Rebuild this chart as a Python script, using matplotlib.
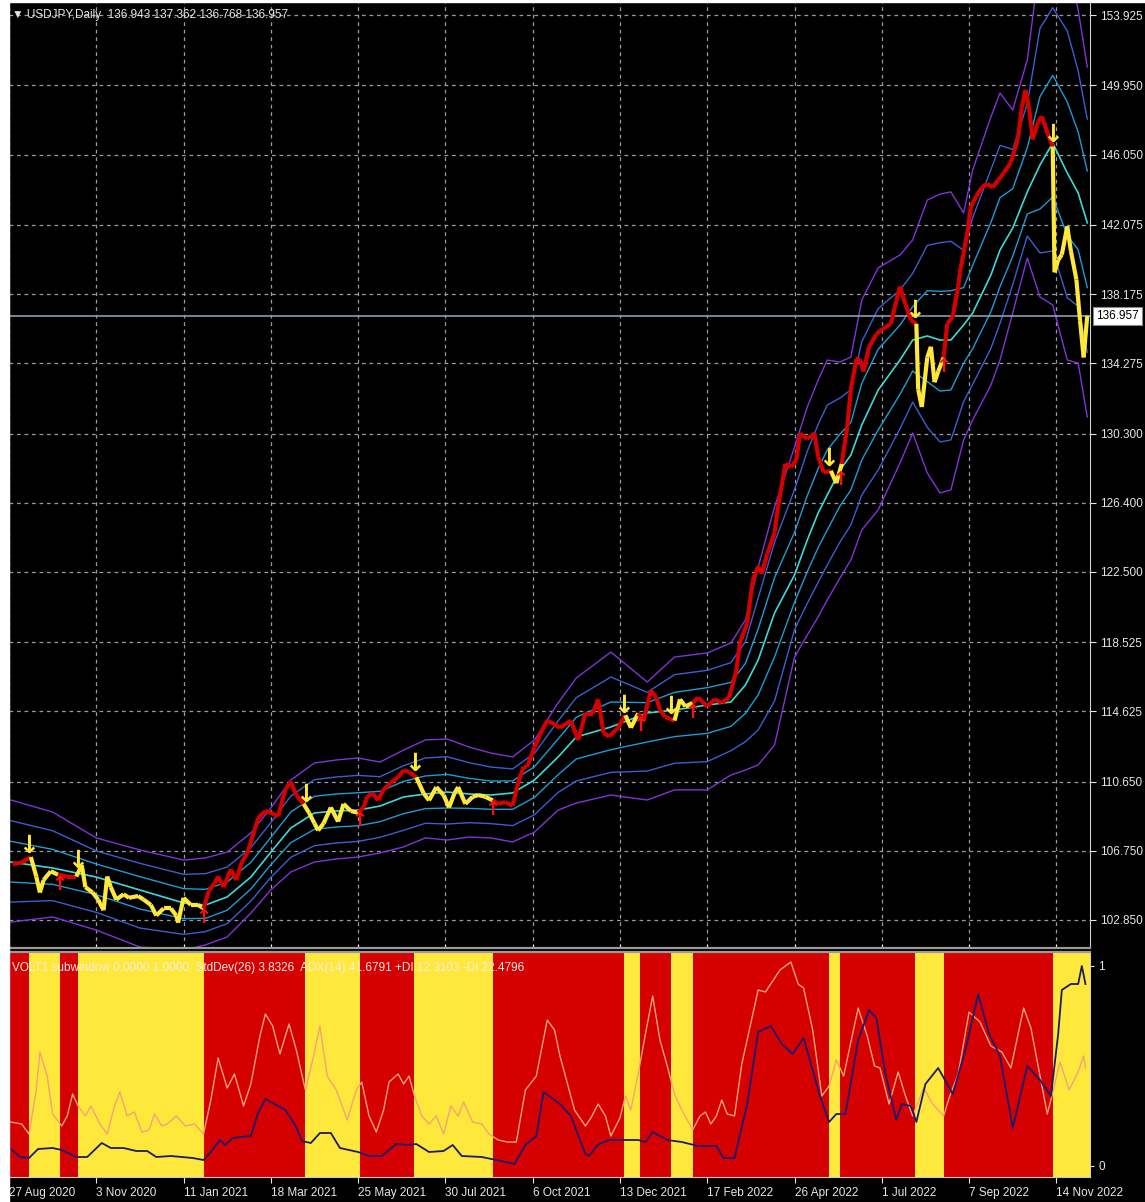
import numpy as np
import matplotlib
matplotlib.use("Agg")
from matplotlib import pyplot as plt
from matplotlib.collections import LineCollection
from matplotlib.patches import Rectangle
from matplotlib.transforms import blended_transform_factory

plt.rcParams['font.family'] = ['Liberation Sans', 'DejaVu Sans']

# ---- price (close, sampled by bar index) ----
price_bar = [2, 7, 12, 15, 17, 19, 23, 27, 32, 37, 40, 42, 46, 49, 52, 54, 56, 59, 63, 66,
             71, 74, 78, 81, 85, 89, 92, 93, 96, 100, 104, 107, 110, 113, 115, 118, 122, 125, 128, 131,
             135, 137, 141, 144, 148, 152, 155, 158, 162, 165, 168, 170, 173, 177, 181, 184, 188, 192, 195, 197,
             200, 203, 206, 210, 214, 217, 220, 224, 228, 231, 235, 239, 242, 245, 247, 251, 255, 258, 262, 266,
             269, 273, 277, 280, 283, 285, 289, 292, 296, 300, 303, 309, 313, 317, 321, 324, 327, 330, 335, 339,
             342, 346, 349, 353, 356, 358, 361, 366, 369, 372, 376, 379, 384, 388, 392, 396, 400, 402, 406, 409,
             412, 414, 417, 421, 423, 427, 430, 433, 435, 439, 443, 445, 448, 452, 455, 458, 461, 463, 466, 468,
             470, 473, 477, 479, 482, 485, 488, 490, 493, 496, 499, 500, 502, 505, 507, 509, 511, 514, 516, 519,
             522, 523, 525, 527, 529, 532, 535, 538, 541, 544, 547, 551, 555, 557, 559, 561, 563, 566, 568, 571,
             574, 575, 577, 579, 582, 584, 587, 589, 591, 593]
price_close = [106.0, 106.1, 106.4, 105.3, 104.4, 105.1, 105.6, 105.4, 105.3, 105.3, 105.95, 104.7, 104.4, 104.0, 103.4, 105.3, 104.7, 104.0, 104.3, 104.1,
               104.2, 104.0, 103.7, 103.1, 103.5, 103.5, 103.1, 102.7, 104.1, 103.7, 103.7, 103.5, 104.5, 104.9, 105.3, 104.7, 105.7, 105.1, 106.1, 106.6,
               107.9, 108.6, 109.0, 108.9, 108.7, 110.2, 110.65, 109.9, 109.4, 108.9, 108.3, 107.9, 108.3, 109.2, 108.4, 109.4, 109.0, 108.9, 109.2, 109.8,
               110.0, 109.6, 110.2, 110.6, 110.9, 111.3, 111.2, 110.9, 110.0, 109.6, 110.35, 109.9, 109.2, 110.0, 110.35, 109.4, 109.8, 109.9, 109.8, 109.6,
               109.4, 109.5, 109.3, 110.6, 111.5, 111.5, 112.6, 113.3, 114.1, 113.9, 113.7, 114.1, 113.0, 114.5, 114.5, 115.3, 113.4, 113.2, 113.7, 114.4,
               113.7, 114.5, 114.1, 115.8, 115.4, 114.7, 114.3, 114.1, 115.3, 114.9, 115.1, 115.4, 114.9, 115.3, 115.1, 115.4, 116.9, 118.5, 119.6, 122.0,
               122.8, 122.4, 123.5, 124.7, 126.2, 128.6, 128.4, 128.8, 130.3, 130.0, 130.3, 129.0, 128.1, 128.2, 127.5, 128.6, 130.7, 132.8, 134.5, 134.5,
               133.8, 135.2, 135.9, 136.1, 136.3, 136.5, 137.8, 138.6, 137.6, 136.7, 136.5, 132.8, 131.8, 134.6, 135.2, 133.2, 133.8, 134.6, 136.5, 136.9,
               138.6, 139.4, 140.5, 141.6, 143.1, 143.7, 144.2, 144.4, 144.2, 144.6, 145.0, 145.6, 147.0, 148.7, 149.7, 148.7, 146.9, 147.9, 148.2, 147.3,
               146.5, 139.4, 140.1, 140.4, 142.0, 140.6, 139.0, 136.7, 134.6, 136.957]

# ---- envelope: outer top, middle, outer bottom ----
band_bar = [1, 24, 48, 72, 96, 108, 120, 133, 144, 155, 168, 180, 192, 204, 217, 229, 241, 253, 265, 277,
            289, 302, 312, 331, 351, 366, 384, 397, 405, 412, 421, 432, 439, 445, 450, 457, 463, 469, 478, 490,
            497, 505, 512, 518, 525, 530, 540, 545, 552, 560, 567, 574, 582, 588, 593]
band_top = [109.62, 108.94, 107.48, 106.80, 106.23, 106.35, 106.68, 107.76, 109.17, 110.75, 111.71, 111.88, 111.99, 111.76, 112.44, 113.01, 113.06, 112.61, 112.27, 112.05,
            113.01, 115.10, 116.51, 117.97, 116.28, 117.69, 117.92, 118.48, 119.78, 122.77, 126.16, 129.54, 131.80, 133.32, 134.45, 134.34, 134.62, 137.84, 139.65, 140.38,
            141.23, 143.48, 143.82, 143.94, 142.75, 145.18, 148.17, 149.52, 148.56, 151.39, 157.03, 158.16, 157.03, 154.21, 150.99]
band_mid = [106.12, 105.78, 105.27, 104.54, 103.81, 103.69, 104.15, 105.27, 106.68, 108.04, 108.89, 109.00, 109.05, 109.28, 109.79, 109.96, 110.07, 109.96, 109.90, 110.02,
            110.75, 112.05, 113.18, 113.74, 114.53, 114.70, 114.98, 115.15, 116.11, 117.52, 120.17, 122.32, 124.29, 125.82, 126.83, 128.24, 129.09, 130.79, 132.76, 134.45,
            135.58, 135.81, 135.58, 135.58, 136.43, 137.11, 139.25, 140.66, 141.90, 143.94, 145.46, 146.70, 145.01, 143.88, 142.19]
band_bot = [102.73, 103.02, 102.28, 101.32, 101.15, 101.44, 101.89, 103.24, 104.54, 105.56, 106.12, 106.29, 106.40, 106.63, 106.97, 107.48, 107.36, 107.53, 107.48, 107.25,
            107.81, 109.05, 109.45, 109.90, 109.62, 110.19, 110.19, 111.03, 111.31, 111.60, 112.72, 117.69, 118.93, 119.95, 120.91, 122.15, 123.17, 124.86, 125.99, 128.64,
            130.33, 128.08, 126.95, 127.12, 129.94, 131.07, 133.04, 134.45, 137.11, 140.21, 138.01, 137.56, 134.45, 134.28, 131.24]

# ---- regime (red = trend, yellow = flat) ----
regime_edges = [0, 11, 28, 38, 107, 163, 193, 223, 266, 338, 347, 364, 376, 451, 457, 498, 514, 574, 594.5]
regime_kind = ['R', 'Y', 'R', 'Y', 'R', 'Y', 'R', 'Y', 'R', 'Y', 'R', 'Y', 'R', 'Y', 'R', 'Y', 'R', 'Y']

# ---- sub window: StdDev (navy) and ADX (salmon), both scaled 0..1 ----
std_bar = [1, 6, 11, 16, 24, 29, 37, 43, 51, 56, 63, 70, 76, 81, 89, 95, 101, 107, 111, 116,
           119, 123, 133, 137, 141, 146, 152, 158, 161, 166, 171, 177, 182, 192, 198, 205, 213, 220, 224, 231,
           239, 244, 249, 260, 268, 278, 284, 290, 294, 300, 303, 309, 317, 319, 324, 330, 338, 346, 350, 354,
           362, 370, 379, 389, 393, 399, 406, 412, 419, 425, 431, 437, 446, 451, 455, 460, 467, 473, 477, 482,
           488, 491, 496, 499, 504, 511, 519, 526, 533, 539, 545, 552, 560, 567, 573, 577, 579, 584, 588, 590, 592]
std_val = [0.085, 0.045, 0.04, 0.085, 0.09, 0.08, 0.045, 0.045, 0.115, 0.09, 0.09, 0.075, 0.075, 0.045, 0.05, 0.045, 0.04, 0.03, 0.07, 0.13,
           0.105, 0.14, 0.15, 0.265, 0.335, 0.31, 0.28, 0.195, 0.125, 0.115, 0.165, 0.165, 0.09, 0.07, 0.05, 0.05, 0.11, 0.105, 0.11, 0.07,
           0.075, 0.105, 0.05, 0.045, 0.03, 0.01, 0.105, 0.15, 0.37, 0.33, 0.31, 0.25, 0.06, 0.05, 0.107, 0.13, 0.13, 0.13, 0.12, 0.17,
           0.13, 0.12, 0.10, 0.10, 0.04, 0.04, 0.31, 0.67, 0.70, 0.61, 0.56, 0.64, 0.35, 0.22, 0.26, 0.26, 0.63, 0.78, 0.74, 0.46,
           0.23, 0.31, 0.30, 0.22, 0.41, 0.49, 0.36, 0.58, 0.86, 0.66, 0.55, 0.19, 0.50, 0.43, 0.35, 0.66, 0.88, 0.91, 0.91, 1.0, 0.91]
adx_bar = [1, 7, 11, 15, 17, 21, 24, 29, 32, 35, 38, 42, 45, 50, 54, 58, 61, 65, 69, 73,
           77, 80, 84, 87, 92, 97, 102, 107, 111, 115, 120, 124, 129, 133, 138, 141, 145, 149, 154, 158,
           163, 167, 171, 175, 180, 186, 191, 194, 198, 202, 206, 209, 214, 217, 220, 223, 227, 231, 235, 239,
           243, 247, 250, 255, 260, 264, 269, 274, 279, 284, 290, 296, 300, 303, 306, 311, 317, 320, 324, 328,
           331, 336, 339, 342, 346, 350, 354, 358, 362, 366, 370, 376, 380, 383, 386, 389, 392, 395, 399, 403,
           412, 416, 424, 430, 434, 437, 442, 447, 451, 455, 459, 467, 472, 476, 479, 484, 489, 493, 497, 503,
           508, 514, 517, 522, 528, 534, 540, 546, 551, 558, 562, 567, 571, 573, 578, 583, 588, 591, 592]
adx_val = [0.22, 0.21, 0.16, 0.38, 0.57, 0.45, 0.26, 0.20, 0.25, 0.36, 0.30, 0.25, 0.30, 0.21, 0.16, 0.30, 0.37, 0.25, 0.27, 0.17,
           0.18, 0.26, 0.20, 0.21, 0.25, 0.20, 0.21, 0.16, 0.33, 0.54, 0.39, 0.46, 0.30, 0.41, 0.65, 0.76, 0.70, 0.56, 0.71, 0.58,
           0.38, 0.53, 0.70, 0.45, 0.38, 0.23, 0.38, 0.42, 0.25, 0.17, 0.28, 0.42, 0.46, 0.41, 0.45, 0.35, 0.25, 0.21, 0.25, 0.16,
           0.30, 0.25, 0.32, 0.22, 0.21, 0.16, 0.13, 0.12, 0.12, 0.38, 0.45, 0.73, 0.68, 0.55, 0.45, 0.28, 0.20, 0.24, 0.31, 0.25,
           0.15, 0.24, 0.35, 0.28, 0.46, 0.66, 0.85, 0.63, 0.50, 0.36, 0.28, 0.18, 0.25, 0.27, 0.21, 0.25, 0.33, 0.26, 0.25, 0.51,
           0.88, 0.87, 0.98, 1.02, 0.91, 0.89, 0.68, 0.35, 0.40, 0.53, 0.45, 0.79, 0.65, 0.50, 0.49, 0.31, 0.47, 0.35, 0.25, 0.39,
           0.31, 0.25, 0.34, 0.46, 0.77, 0.72, 0.60, 0.57, 0.49, 0.79, 0.69, 0.45, 0.26, 0.33, 0.52, 0.38, 0.47, 0.55, 0.49]

price_ticks = [153.925, 149.950, 146.050, 142.075, 138.175, 134.275, 130.300, 126.400,
               122.500, 118.525, 114.625, 110.650, 106.750, 102.850]
date_labels = ['27 Aug 2020', '3 Nov 2020', '11 Jan 2021', '18 Mar 2021', '25 May 2021', '30 Jul 2021',
               '6 Oct 2021', '13 Dec 2021', '17 Feb 2022', '26 Apr 2022', '1 Jul 2022', '7 Sep 2022', '14 Nov 2022']
last_price = 136.957
title = "USDJPY,Daily  136.943 137.362 136.768 136.957"
sub_title = "VOLT1 subwindow 0.0000 1.0000  StdDev(26) 3.8326  ADX(14) 41.6791 +DI:12.3103 -DI:22.4796"

RED = '#d50000'
YEL = '#ffe83c'
TXT = '#e6e6e6'
GRID = '#9a9aa6'
FS = 8.5
W, H = 1145, 1202

fig = plt.figure(figsize=(W / 100, H / 100), dpi=100, facecolor='black')
ax = fig.add_axes([9 / W, 1 - 948 / H, 1081 / W, 946 / H], facecolor='black')
sub = fig.add_axes([9 / W, 1 - 1177 / H, 1081 / W, 225 / H], facecolor='black', sharex=ax)

xmax = 594.5
ax.set_xlim(0, xmax)
ax.set_ylim(101.267, 154.659)

# grid
ax.set_xticks(np.arange(24, xmax, 24))
ax.set_yticks(price_ticks)
ax.grid(True, color=GRID, linestyle=(0, (3, 3)), linewidth=0.9)
ax.yaxis.tick_right()
ax.set_yticklabels([f"{v:.3f}" for v in price_ticks])
ax.tick_params(axis='y', colors=TXT, labelsize=FS, length=4, width=0.8, pad=3)
ax.tick_params(axis='x', colors=TXT, length=3, direction='in', labelbottom=False)
for s in ['top', 'left']:
    ax.spines[s].set_visible(False)
ax.spines['right'].set_color('#d0d0d0')
ax.spines['bottom'].set_color('#9a9a9a')
ax.spines['bottom'].set_linewidth(1.6)

# envelope lines
bb = np.array(band_bar)
top = np.array(band_top)
mid = np.array(band_mid)
bot = np.array(band_bot)
band_colors = {0: '#3fd8d8', 1: '#1e9bd7', 2: '#3b5fd0', 3: '#8233d6'}
for k in [3, 2, 1]:
    ax.plot(bb, mid + (top - mid) * k / 3, color=band_colors[k], lw=1.0)
    ax.plot(bb, mid - (mid - bot) * k / 3, color=band_colors[k], lw=1.0)
ax.plot(bb, mid, color=band_colors[0], lw=1.2)

# current price line
ax.axhline(last_price, color='#8c9bb0', lw=1.2)


def regime_at(b):
    idx = np.searchsorted(regime_edges, b, side='right') - 1
    idx = min(max(idx, 0), len(regime_kind) - 1)
    return regime_kind[idx]


# price path coloured by regime
pts = np.column_stack([price_bar, price_close])
segs = np.stack([pts[:-1], pts[1:]], axis=1)
seg_cols = [RED if regime_at((a[0] + b[0]) / 2) == 'R' else YEL for a, b in segs]
ax.add_collection(LineCollection(segs, colors=seg_cols, linewidths=3.0, zorder=4))

# signal arrows at regime changes
for i, b in enumerate(regime_edges[1:-1], start=1):
    p = np.interp(b, price_bar, price_close)
    if regime_kind[i] == 'Y':
        ax.text(b, p, '\u2193', color=YEL, fontsize=18, fontweight='bold', ha='center', va='bottom',
                family='DejaVu Sans', zorder=5)
    else:
        ax.text(b, p, '\u2191', color='#ff1010', fontsize=14, fontweight='bold', ha='center', va='top',
                family='DejaVu Sans', zorder=5)

# labels
ax.text(3 / 1081, 1 - 13 / 946, '\u25bc ' + title, transform=ax.transAxes, color=TXT, fontsize=FS,
        ha='left', va='center', family=['Liberation Sans', 'DejaVu Sans'])
tr = blended_transform_factory(ax.transAxes, ax.transData)
ax.text(1 + 6 / 1081, last_price, f"{last_price:.3f}", transform=tr, color='black', fontsize=FS,
        ha='left', va='center', zorder=6,
        bbox=dict(boxstyle='square,pad=0.25', facecolor='white', edgecolor='#888888', lw=0.8))

# ---- sub window ----
sub.set_ylim(-0.055, 1.07)
for i, kind in enumerate(regime_kind):
    sub.axvspan(regime_edges[i], regime_edges[i + 1], color=RED if kind == 'R' else YEL, lw=0)
sub.plot(adx_bar, adx_val, color='#f4a277', lw=1.0)
sub.plot(std_bar, std_val, color='#1b1b70', lw=1.3)
sub.text(3 / 1081, 1 - 16 / 225, sub_title, transform=sub.transAxes, color='#f6ece6', fontsize=FS,
         ha='left', va='center')

sub.yaxis.tick_right()
sub.set_yticks([0, 1])
sub.set_yticklabels(['0', '1'])
sub.tick_params(axis='y', colors=TXT, labelsize=FS, length=3, pad=3)
sub.set_xticks(np.arange(0, xmax, 48))
sub.set_xticklabels(date_labels)
sub.tick_params(axis='x', colors=TXT, labelsize=FS, length=4, pad=3)
for lbl in sub.get_xticklabels():
    lbl.set_horizontalalignment('left')
sub.spines['left'].set_visible(False)
sub.spines['top'].set_color('#9a9a9a')
sub.spines['top'].set_linewidth(1.6)
sub.spines['right'].set_color('#d0d0d0')
sub.spines['bottom'].set_color('#c8c8c8')
sub.spines['bottom'].set_linestyle((0, (3, 1)))
sub.set_xlim(0, xmax)

# white margin on the left and top as in the screenshot
fig.patches.append(Rectangle((0, 0), 9 / W, 1, transform=fig.transFigure, color='white', zorder=10))
fig.patches.append(Rectangle((0, 1 - 2 / H), 1, 2 / H, transform=fig.transFigure, color='white', zorder=10))

fig.savefig('out.png', dpi=100, facecolor='black')
